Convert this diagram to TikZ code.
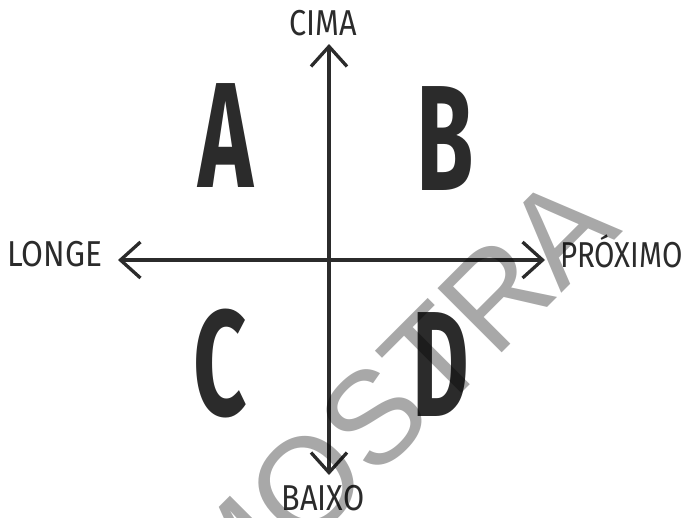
\documentclass[tikz,border=0pt]{standalone}
\usepackage{fontspec}
\setmainfont{Fira Sans}
\newfontfamily\wmfont{Liberation Sans}
\usetikzlibrary{arrows.meta}
\definecolor{ink}{RGB}{43,43,43}
\definecolor{wmgray}{RGB}{168,168,168}
\tikzset{
  axisline/.style={draw=ink, line width=3.3pt,
    {Straight Barb[length=20pt,width=36pt]}-{Straight Barb[length=20pt,width=36pt]}},
  quad/.style={inner sep=0pt, text=ink, font=\bfseries\fontsize{150}{150}\selectfont},
  lbl/.style={inner sep=0pt, text=ink, font=\fontsize{36}{36}\selectfont},
  wmtext/.style={inner sep=0pt, text=wmgray, font=\wmfont\fontsize{132}{132}\selectfont},
}
\begin{document}
\begin{tikzpicture}[x=1pt,y=-1pt]
\useasboundingbox (0,0) rectangle (695,517);
% axis ends
\coordinate (top) at (329,44);
\coordinate (bot) at (329,475);
\coordinate (lft) at (118,260);
\coordinate (rgt) at (545,260);
\draw[axisline] (top) -- (bot);
\draw[axisline] (lft) -- (rgt);
% axis labels
\node[lbl, anchor=base] (cima) at (323,35) {\scalebox{0.85}[1]{CIMA}};
\node[lbl, anchor=base] (baixo) at (323,510) {\scalebox{0.85}[1]{BAIXO}};
\node[lbl, anchor=base west] (longe) at (7,266) {\scalebox{0.88}[1]{LONGE}};
\node[lbl, anchor=base west] (prox) at (560,267) {\scalebox{0.82}[1]{PRÓXIMO}};
% quadrant letters
\node[quad] (A) at (226,136) {\scalebox{0.62}[1]{A}};
\node[quad] (B) at (445,139) {\scalebox{0.62}[1]{B}};
\node[quad] (C) at (220,364) {\scalebox{0.62}[1]{C}};
\node[quad] (D) at (441,365) {\scalebox{0.58}[1]{D}};
% watermark
\begin{scope}[blend mode=multiply]
\node[wmtext, rotate=45, anchor=base east] (wm) at (624,231) {AMOSTRA};
\end{scope}
\end{tikzpicture}
\end{document}
